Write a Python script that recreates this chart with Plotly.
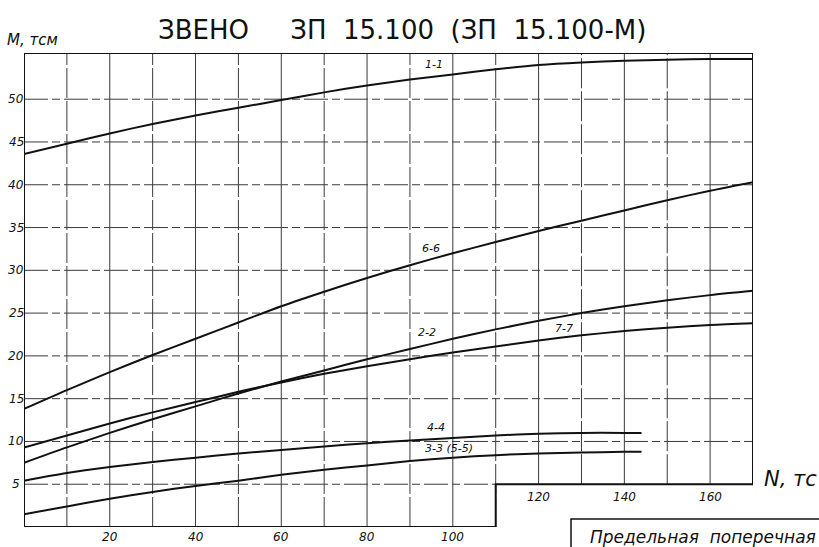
import plotly.graph_objects as go

# Axial force N, tf
N = [0, 10, 20, 30, 40, 50, 60, 70, 80, 90, 100, 110, 120, 130, 140, 150, 160, 170]
N_short = [0, 10, 20, 30, 40, 50, 60, 70, 80, 90, 100, 110, 120, 130, 140, 144]

# Bending moment M, tf·m, per section
m_1_1 = [43.6, 44.8, 46.0, 47.1, 48.1, 49.0, 49.9, 50.8, 51.6, 52.3, 52.9, 53.5, 54.0, 54.3, 54.5, 54.6, 54.7, 54.7]
m_6_6 = [13.8, 16.0, 18.1, 20.1, 22.0, 23.9, 25.8, 27.5, 29.1, 30.6, 32.0, 33.3, 34.6, 35.8, 37.0, 38.2, 39.3, 40.3]
m_2_2 = [7.5, 9.3, 11.0, 12.6, 14.1, 15.6, 17.0, 18.3, 19.6, 20.8, 22.0, 23.1, 24.1, 25.0, 25.8, 26.5, 27.1, 27.6]
m_7_7 = [9.3, 10.7, 12.1, 13.4, 14.6, 15.8, 16.9, 17.9, 18.8, 19.6, 20.4, 21.1, 21.8, 22.4, 22.9, 23.3, 23.6, 23.8]
m_4_4 = [5.4, 6.3, 7.0, 7.6, 8.1, 8.6, 9.0, 9.4, 9.8, 10.1, 10.4, 10.7, 10.9, 11.0, 11.0, 11.0]
m_3_3 = [1.5, 2.4, 3.3, 4.1, 4.8, 5.4, 6.1, 6.7, 7.2, 7.7, 8.1, 8.4, 8.6, 8.7, 8.8, 8.8]

series = [
    ("1-1", N, m_1_1),
    ("6-6", N, m_6_6),
    ("2-2", N, m_2_2),
    ("7-7", N, m_7_7),
    ("4-4", N_short, m_4_4),
    ("3-3 (5-5)", N_short, m_3_3),
]

# Curve labels: (text, N, M)
curve_labels = [
    ("1-1", 95.5, 54.0),
    ("6-6", 95, 32.6),
    ("2-2", 94, 22.7),
    ("7-7", 126, 23.2),
    ("4-4", 96, 11.6),
    ("3-3 (5-5)", 99, 9.2),
]

x_ticks_low = [20, 40, 60, 80, 100]
x_ticks_high = [120, 140, 160]
y_ticks = [5, 10, 15, 20, 25, 30, 35, 40, 45, 50]

X_MAX = 170
Y_MAX = 55.4
X_STEP = 110   # where the lower border steps up
Y_STEP = 5

W, H = 819, 547
ML, MR, MT, MB = 24, 66, 53, 20


def px(xp):
    return (xp - ML) / (W - ML - MR)


def py(yp):
    return (H - MB - yp) / (H - MT - MB)


INK = "#111111"
GRID = "#3a3a3a"
HAND = "DejaVu Sans, Liberation Sans, sans-serif"

fig = go.Figure()

for name, xs, ys in series:
    fig.add_trace(go.Scatter(
        x=xs, y=ys, mode="lines", name=name,
        line=dict(color=INK, width=2, shape="spline", smoothing=0.8),
        showlegend=False, hoverinfo="x+y+name",
    ))

shapes = []
# vertical grid lines every 10
for v in range(10, X_MAX, 10):
    y0 = 0 if v <= X_STEP else Y_STEP
    dash = "solid" if v % 20 == 0 else "30px,3px"
    shapes.append(dict(type="line", xref="x", yref="y", x0=v, x1=v, y0=y0, y1=Y_MAX,
                       line=dict(color=GRID, width=1, dash=dash), layer="below"))
# horizontal grid lines every 5
for h in y_ticks:
    x1 = X_STEP if h == Y_STEP else X_MAX
    shapes.append(dict(type="line", xref="x", yref="y", x0=0, x1=x1, y0=h, y1=h,
                       line=dict(color=GRID, width=1, dash="24px,4px,8px,4px"), layer="below"))
# chart border with the stepped lower edge
border = [(0, 0), (0, Y_MAX), (X_MAX, Y_MAX), (X_MAX, Y_STEP), (X_STEP, Y_STEP), (X_STEP, 0), (0, 0)]
path = "M " + " L ".join(f"{a},{b}" for a, b in border)
shapes.append(dict(type="path", xref="x", yref="y", path=path,
                   line=dict(color=INK, width=2), layer="above"))
# note box in the lower right corner
shapes.append(dict(type="rect", xref="paper", yref="paper",
                   x0=px(571), x1=px(840), y0=py(519), y1=py(570),
                   line=dict(color=INK, width=1.5)))


def label(text, x, y, xref, yref, size, italic=True, xanchor="center"):
    return dict(x=x, y=y, xref=xref, yref=yref, text=text, showarrow=False,
                xanchor=xanchor, yanchor="middle",
                font=dict(family=HAND, size=size, color=INK,
                          style="italic" if italic else "normal"))


annotations = []
for t, xv, yv in curve_labels:
    annotations.append(label(t, xv, yv, "x", "y", 11))
for v in x_ticks_low:
    annotations.append(label(str(v), v, py(537), "x", "paper", 12))
for v in x_ticks_high:
    annotations.append(label(str(v), v, py(497), "x", "paper", 12))
for v in y_ticks:
    annotations.append(label(str(v), px(16), v, "paper", "y", 12))

annotations += [
    label("ЗВЕНО     ЗП  15.100  (ЗП  15.100-М)", px(402), py(30), "paper", "paper", 26, italic=False),
    label("M, тсм", px(5), py(40), "paper", "paper", 15, xanchor="left"),
    label("N, тс", px(762), py(479), "paper", "paper", 21, xanchor="left"),
    label("Предельная  поперечная", px(588), py(537), "paper", "paper", 17, xanchor="left"),
]

fig.update_layout(
    width=W, height=H,
    margin=dict(l=ML, r=MR, t=MT, b=MB),
    paper_bgcolor="white", plot_bgcolor="white",
    xaxis=dict(range=[0, X_MAX], showgrid=False, zeroline=False, showticklabels=False,
               showline=False, ticks=""),
    yaxis=dict(range=[0, Y_MAX], showgrid=False, zeroline=False, showticklabels=False,
               showline=False, ticks=""),
    shapes=shapes,
    annotations=annotations,
)

fig.write_html("out.html")
